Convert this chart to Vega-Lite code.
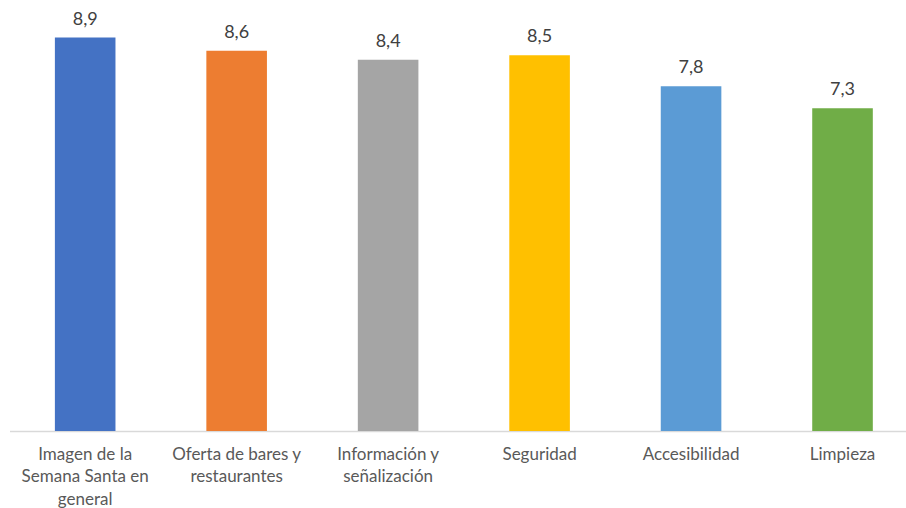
{
  "$schema": "https://vega.github.io/schema/vega-lite/v6.json",
  "width": 897,
  "height": 420,
  "autosize": "none",
  "padding": {"left": 9.5, "top": 11, "right": 0, "bottom": 77},
  "config": {
    "view": {"stroke": null},
    "locale": {"number": {"decimal": ",", "thousands": ".", "grouping": [3], "currency": ["", " €"]}},
    "font": "Lato"
  },
  "data": {
    "values": [
      {"categoria": "Imagen de la Semana Santa en general", "valor": 8.9},
      {"categoria": "Oferta de bares y restaurantes", "valor": 8.6},
      {"categoria": "Información y señalización", "valor": 8.4},
      {"categoria": "Seguridad", "valor": 8.5},
      {"categoria": "Accesibilidad", "valor": 7.8},
      {"categoria": "Limpieza", "valor": 7.3}
    ]
  },
  "encoding": {
    "x": {
      "field": "categoria",
      "type": "nominal",
      "sort": null,
      "scale": {"paddingInner": 0.6, "paddingOuter": 0.261, "align": 0.574},
      "axis": {
        "title": null,
        "labelAngle": 0,
        "ticks": false,
        "domainColor": "#D9D9D9",
        "domainWidth": 1.5,
        "labelColor": "#595959",
        "labelFontSize": 17,
        "labelFont": "Lato",
        "labelPadding": 15,
        "labelLineHeight": 22.5,
        "labelLimit": 200,
        "labelExpr": "datum.value == 'Imagen de la Semana Santa en general' ? ['Imagen de la', 'Semana Santa en', 'general'] : datum.value == 'Oferta de bares y restaurantes' ? ['Oferta de bares y', 'restaurantes'] : datum.value == 'Información y señalización' ? ['Información y', 'señalización'] : datum.value"
      }
    },
    "y": {
      "field": "valor",
      "type": "quantitative",
      "scale": {"domain": [0, 9.5], "nice": false, "zero": true},
      "axis": null
    }
  },
  "layer": [
    {
      "mark": {"type": "bar"},
      "encoding": {
        "color": {
          "field": "categoria",
          "type": "nominal",
          "sort": null,
          "scale": {
            "domain": ["Imagen de la Semana Santa en general", "Oferta de bares y restaurantes", "Información y señalización", "Seguridad", "Accesibilidad", "Limpieza"],
            "range": ["#4472C4", "#ED7D31", "#A5A5A5", "#FFC000", "#5B9BD5", "#70AD47"]
          },
          "legend": null
        }
      }
    },
    {
      "mark": {"type": "text", "baseline": "bottom", "dy": -9, "fontSize": 18, "color": "#404040", "font": "Lato"},
      "encoding": {
        "text": {"field": "valor", "type": "quantitative", "format": ".1f"}
      }
    }
  ]
}
